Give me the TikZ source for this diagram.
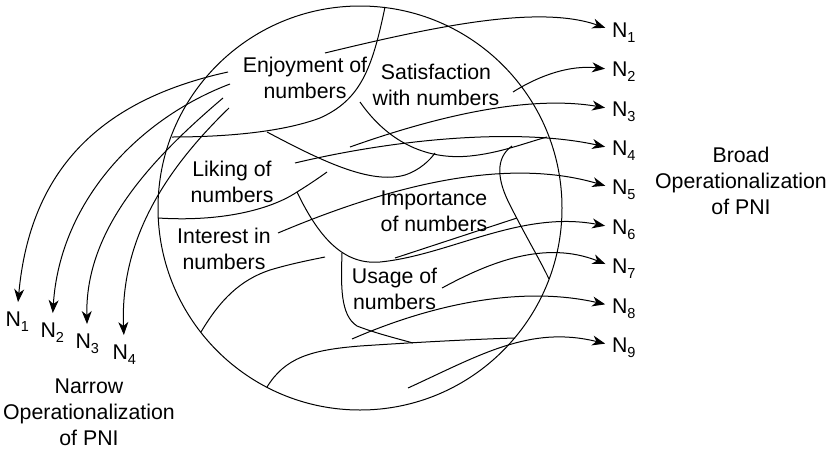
\documentclass[tikz,border=0pt]{standalone}
\usepackage{fontspec}
\setmainfont{Liberation Sans}
\usetikzlibrary{arrows.meta}
% N with a lowered index digit; the index is smashed so the node box is just the N
\newcommand\Nlab[1]{N\smash{\raisebox{-5pt}{\fontsize{14.5}{14.5}\selectfont #1}}}

\begin{document}
\begin{tikzpicture}[x=1pt,y=-1pt,line width=1pt,
  lbl/.style={font=\fontsize{21.3}{26}\selectfont,align=center,inner sep=0pt},
  nlab/.style={font=\fontsize{21.3}{26}\selectfont,inner sep=0pt},
  tip/.style={-{Stealth[length=13pt,width=10pt,inset=4pt]}},
  arr/.style={tip,shorten >=6.5pt},
  larr/.style={tip,shorten >=9pt},
]
\useasboundingbox (0,0) rectangle (837,453);

% the construct as a whole
\draw (360,208) circle[radius=202pt];

% facet labels
\node[lbl] (enj) at (305,77.5) {Enjoyment of\\numbers};
\node[lbl] (sat) at (436,85) {Satisfaction\\with numbers};
\node[lbl] (lik) at (232,181.5) {Liking of\\numbers};
\node[lbl] (int) at (224,248.5) {Interest in\\numbers};
\node[lbl] (imp) at (434,211.5) {Importance\\of numbers};
\node[lbl] (use) at (394.5,288.5) {Usage of\\numbers};

% operationalization captions
\node[lbl] (broad) at (741,181) {Broad\\Operationalization\\of PNI};
\node[lbl] (narrow) at (89,412.5) {Narrow\\Operationalization\\of PNI};

% broad item labels
\foreach \i in {1,...,9}
  \node[nlab,anchor=west] (r\i) at (611.5,{30+39.4*(\i-1)}) {\Nlab{\i}};

% narrow item labels
\node[nlab,anchor=north west] (l1) at (5,311) {\Nlab{1}};
\node[nlab,anchor=north west] (l2) at (40,322) {\Nlab{2}};
\node[nlab,anchor=north west] (l3) at (75,333) {\Nlab{3}};
\node[nlab,anchor=north west] (l4) at (112,344) {\Nlab{4}};

% region boundaries inside the circle
\draw (385,7) .. controls (372,70) and (360,100) .. (320,118)
      .. controls (280,133) and (220,137) .. (172,137);
\draw (360,102) .. controls (390,145) and (430,160) .. (470,156)
      .. controls (500,153) and (525,143) .. (547,137);
\draw (267,132) .. controls (320,160) and (370,185) .. (405,175)
      .. controls (420,170) and (430,160) .. (435,153);
\draw (512,146) .. controls (495,158) and (497,180) .. (510,205)
      .. controls (525,235) and (540,260) .. (549,279);
\draw (158,218) .. controls (220,222) and (270,210) .. (297,192)
      .. controls (310,184) and (320,177) .. (327,172);
\draw (395,258) -- (517,218);
\draw (201,332) .. controls (220,300) and (240,280) .. (270,270)
      .. controls (290,264) and (310,260) .. (325,257);
\draw (342,253) .. controls (341,285) and (340,315) .. (357,326)
      .. controls (375,333) and (395,338) .. (413,343);
\draw (267,387) .. controls (285,358) and (310,350) .. (360,346)
      .. controls (420,342) and (480,339) .. (515,338);

% start points of the item arrows
\coordinate (s1) at (325,53);
\coordinate (s2) at (513,92);
\coordinate (s3) at (350,147);
\coordinate (s4) at (295,163);
\coordinate (s5) at (278,233);
\coordinate (s6) at (297,192);
\coordinate (s7) at (442,288);
\coordinate (s8) at (352,339);
\coordinate (s9) at (408,388);
\coordinate (t1) at (228,72);
\coordinate (t2) at (230,84);
\coordinate (t3) at (223,98);
\coordinate (t4) at (229,108);

% broad operationalization: items spread over all facets
\draw[arr] (s1) .. controls (440,25) and (540,5) .. (r1.west);
\draw[arr] (s2) .. controls (540,75) and (570,65) .. (r2.west);
\draw[arr] (s3) .. controls (440,115) and (530,95) .. (r3.west);
\draw[arr] (s4) .. controls (400,138) and (520,128) .. (r4.west);
\draw[arr] (s5) .. controls (380,190) and (500,155) .. (r5.west);
\draw[arr] (s6) .. controls (320,240) and (345,265) .. (380,262)
      .. controls (450,255) and (520,210) .. (r6.west);
\draw[arr] (s7) .. controls (490,262) and (545,240) .. (r7.west);
\draw[arr] (s8) .. controls (430,305) and (520,285) .. (r8.west);
\draw[arr] (s9) .. controls (480,355) and (530,325) .. (r9.west);

% narrow operationalization: items from a single facet
\draw[larr] (t1) .. controls (100,100) and (30,170) .. (l1.north);
\draw[larr] (t2) .. controls (140,118) and (60,200) .. (l2.north);
\draw[larr] (t3) .. controls (150,160) and (85,230) .. (l3.north);
\draw[larr] (t4) .. controls (165,170) and (120,240) .. (l4.north);
\end{tikzpicture}
\end{document}
